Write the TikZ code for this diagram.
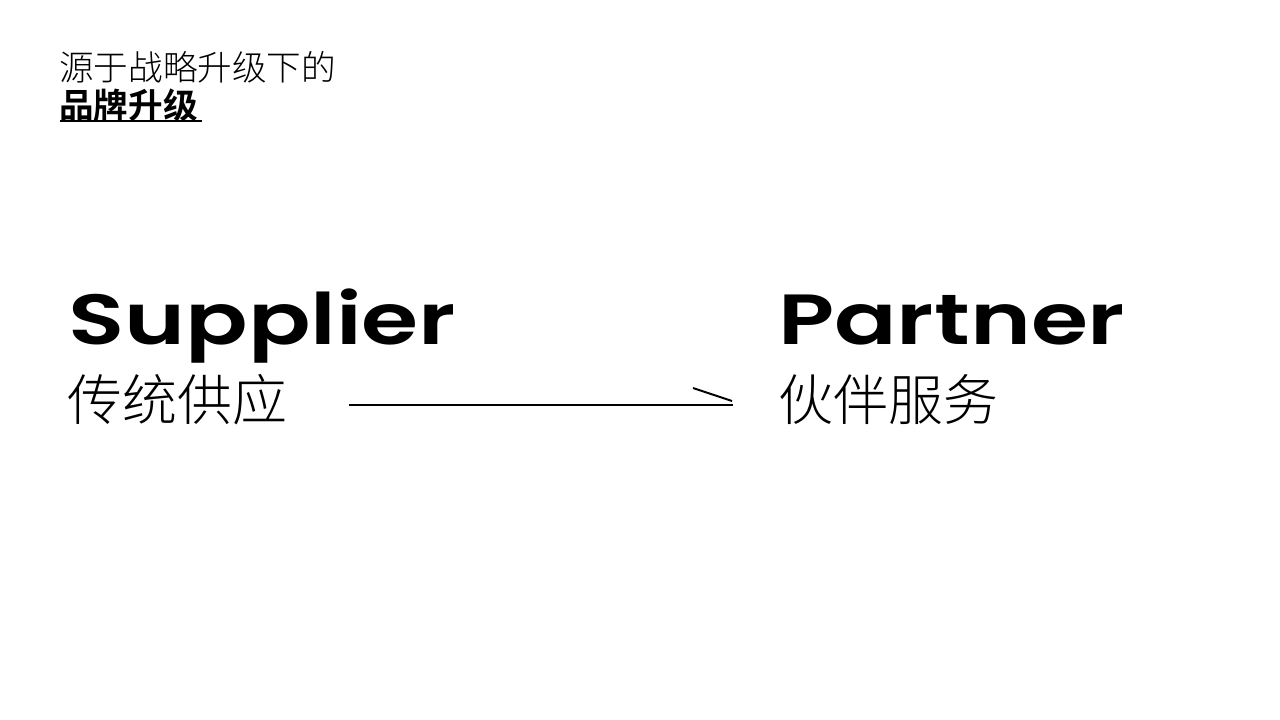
\documentclass[tikz,border=0pt]{standalone}
\usepackage{fontspec}
\newfontfamily\cjk{Noto Sans CJK SC Light}
\newfontfamily\cjkb{Noto Sans CJK SC Bold}
\newfontfamily\lat{Poppins SemiBold}
\begin{document}
\begin{tikzpicture}[x=1pt,y=-1pt,
  head/.style={inner sep=0pt,anchor=base west,font=\cjk\fontsize{34.6}{40}\selectfont},
  headb/.style={inner sep=0pt,anchor=base west,font=\cjkb\fontsize{34.6}{40}\selectfont},
  big/.style={inner sep=0pt,anchor=base west,font=\lat\fontsize{71}{80}\selectfont},
  sub/.style={inner sep=0pt,anchor=base west,font=\cjk\fontsize{55}{60}\selectfont},
  conn/.style={line width=2pt}]
\useasboundingbox (0,0) rectangle (1280,720);
\node[head] (t1) at (59,80) {源于战略升级下的};
\node[headb] (t2) at (59,118) {品牌升级};
\coordinate (u1) at (60,121);
\coordinate (u2) at (202,121);
\draw[line width=2pt] (u1) -- (u2);
\node[big] (sup) at (68,344) {\scalebox{1.3}[1]{Supplier}};
\node[big] (par) at (778,344) {\scalebox{1.3}[1]{Partner}};
\node[sub] (s1) at (67,420) {传统供应};
\node[sub] (s2) at (778,420) {伙伴服务};
\coordinate (a1) at (349,405);
\coordinate (a2) at (733,405);
\coordinate (h1) at (693,388);
\coordinate (h2) at (732,401);
\draw[conn] (a1) -- (a2);
\draw[conn] (h1) -- (h2);
\end{tikzpicture}
\end{document}
